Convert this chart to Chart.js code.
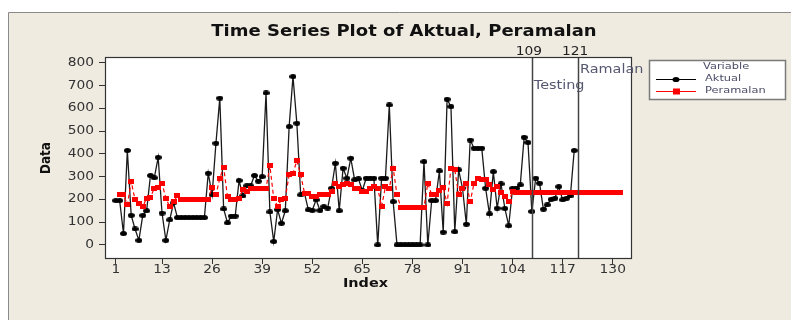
<!DOCTYPE html>
<html>
<head>
<meta charset="utf-8">
<script src="https://cdn.jsdelivr.net/npm/chart.js@4.4.1/dist/chart.umd.min.js"></script>
<style>
  html, body { margin: 0; padding: 0; background: #ffffff; }
  #wrap { width: 791px; height: 320px; }
</style>
</head>
<body>
<div id="wrap"><canvas id="chart" width="791" height="320"></canvas></div>
<script>
const aktual = [
  195, 195, 50, 415, 130, 70, 20, 130, 150, 305,
  295, 385, 140, 20, 110, 185, 120, 120, 120, 120,
  120, 120, 120, 120, 315, 220, 447, 645, 158, 97,
  127, 127, 283, 215, 260, 260, 305, 280, 300, 668,
  145, 15, 155, 95, 150, 520, 740, 535, 220, 225,
  154, 152, 198, 152, 168, 162, 249, 359, 150, 337,
  293, 381, 286, 290, 239, 293, 293, 293, 0, 293,
  293, 615, 190, 0, 0, 0, 0, 0, 0, 0,
  366, 0, 195, 195, 325, 56, 640, 608, 58, 330,
  250, 91, 461, 425, 425, 425, 249, 136, 322, 161,
  268, 160, 84, 249, 249, 264, 473, 450, 147, 293,
  271, 157, 176, 200, 205, 256, 198, 205, 215, 415
];

const peramalan = [
  null, 220, 220, 176, 278, 198, 183, 168, 205, 210,
  249, 252, 271, 205, 168, 190, 215, 200, 200, 200,
  200, 200, 200, 200, 200, 252, 220, 293, 341, 212,
  198, 200, 205, 245, 234, 250, 250, 250, 250, 250,
  347, 205, 170, 198, 205, 308, 315, 370, 308, 227,
  227, 212, 212, 220, 220, 220, 234, 271, 256, 264,
  268, 264, 249, 249, 234, 234, 249, 256, 249, 168,
  256, 249, 337, 220, 165, 165, 165, 165, 165, 165,
  165, 271, 220, 220, 240, 253, 180, 337, 330, 220,
  249, 271, 190, 271, 293, 288, 288, 264, 242, 256,
  230, 212, 190, 234, 230, 230, 230, 230, 230, 230,
  230, 230, 230, 230, 230, 230, 230, 230, 230, 230,
  230, 230, 230, 230, 230, 230, 230, 230, 230, 230,
  230, 230
];

const xTicks = [1, 13, 26, 39, 52, 65, 78, 91, 104, 117, 130];
const yTicks = [0, 100, 200, 300, 400, 500, 600, 700, 800];
const refLines = [109, 121];
const refNotes = ['Testing', 'Ramalan'];

const BEIGE = '#efebe1';
const FONT = '"DejaVu Sans", Tahoma, sans-serif';
const SX = 1.2; // the original image is a bit stretched sideways

// draw text squeezed/stretched horizontally
function wideText(ctx, text, x, y, align) {
  ctx.save();
  ctx.translate(x, y);
  ctx.scale(SX, 1);
  ctx.textAlign = align || 'center';
  ctx.fillText(text, 0, 0);
  ctx.restore();
}

// point markers (wider than tall like the source)
function marker(w, h, color, round) {
  const c = document.createElement('canvas');
  c.width = w; c.height = h;
  const g = c.getContext('2d');
  g.fillStyle = color;
  if (round) {
    g.beginPath();
    g.ellipse(w / 2, h / 2, w / 2, h / 2, 0, 0, Math.PI * 2);
    g.fill();
  } else {
    g.fillRect(0, 0, w, h);
  }
  return c;
}

// background: white page, beige panel, white data region
const bgPlugin = {
  id: 'bg',
  beforeDraw(chart) {
    const { ctx, chartArea: a } = chart;
    ctx.save();
    ctx.fillStyle = '#ffffff';
    ctx.fillRect(0, 0, chart.width, chart.height);
    ctx.fillStyle = BEIGE;
    ctx.fillRect(8, 12, chart.width - 8, chart.height - 12);
    ctx.strokeStyle = '#8a8a8a';
    ctx.lineWidth = 1;
    ctx.beginPath();
    ctx.moveTo(8.5, chart.height);
    ctx.lineTo(8.5, 12.5);
    ctx.lineTo(chart.width, 12.5);
    ctx.stroke();
    ctx.fillStyle = '#ffffff';
    ctx.fillRect(a.left, a.top, a.right - a.left, a.bottom - a.top);
    ctx.restore();
  }
};

// frame, reference lines, texts and legend
const overlayPlugin = {
  id: 'overlay',
  afterDraw(chart) {
    const { ctx, chartArea: a, scales } = chart;
    const x = scales.x, y = scales.y;
    ctx.save();

    // reference lines at 109 and 121
    ctx.strokeStyle = '#444';
    ctx.lineWidth = 1.5;
    refLines.forEach(v => {
      const px = Math.round(x.getPixelForValue(v)) + 0.5;
      ctx.beginPath();
      ctx.moveTo(px, a.top);
      ctx.lineTo(px, a.bottom);
      ctx.stroke();
    });

    // plot frame
    ctx.strokeStyle = '#333';
    ctx.lineWidth = 1.2;
    ctx.strokeRect(a.left + 0.5, a.top + 0.5, a.right - a.left - 1, a.bottom - a.top - 1);

    // tick labels
    ctx.fillStyle = '#333';
    ctx.font = '11.5px ' + FONT;
    ctx.textBaseline = 'middle';
    xTicks.forEach(v => wideText(ctx, String(v), x.getPixelForValue(v), 270, 'center'));
    yTicks.forEach(v => wideText(ctx, String(v), 94, y.getPixelForValue(v), 'right'));

    // labels above the reference lines
    ctx.fillStyle = '#222';
    ctx.font = '11.5px ' + FONT;
    refLines.forEach(v => wideText(ctx, String(v), x.getPixelForValue(v) - 3, 52, 'center'));

    // notes inside the plot
    ctx.fillStyle = '#55586e';
    ctx.font = '12px ' + FONT;
    wideText(ctx, refNotes[0], x.getPixelForValue(refLines[0]) + 2, 86, 'left');
    wideText(ctx, refNotes[1], x.getPixelForValue(refLines[1]) + 2, 70, 'left');

    // title
    ctx.fillStyle = '#111';
    ctx.font = 'bold 15px ' + FONT;
    wideText(ctx, 'Time Series Plot of Aktual, Peramalan', 404, 32, 'center');

    // axis titles
    ctx.font = 'bold 12px ' + FONT;
    wideText(ctx, 'Index', (a.left + a.right) / 2 - 3, 284, 'center');
    ctx.save();
    ctx.translate(46, 158);
    ctx.rotate(-Math.PI / 2);
    ctx.scale(1, SX);
    ctx.textAlign = 'center';
    ctx.fillText('Data', 0, 0);
    ctx.restore();

    // legend
    const lx = 649, ly = 60, lw = 136, lh = 39;
    ctx.fillStyle = '#ffffff';
    ctx.fillRect(lx, ly, lw, lh);
    ctx.strokeStyle = '#7a7a7a';
    ctx.lineWidth = 1.5;
    ctx.strokeRect(lx + 0.5, ly + 0.5, lw, lh);
    ctx.fillStyle = '#4a4c66';
    ctx.font = '9.5px ' + FONT;
    wideText(ctx, 'Variable', 703, 67, 'left');
    wideText(ctx, 'Aktual', 705, 79, 'left');
    wideText(ctx, 'Peramalan', 705, 91, 'left');

    ctx.strokeStyle = '#000';
    ctx.lineWidth = 1;
    ctx.beginPath();
    ctx.moveTo(656, 79.5); ctx.lineTo(696, 79.5);
    ctx.stroke();
    ctx.fillStyle = '#000';
    ctx.beginPath();
    ctx.ellipse(676, 79.5, 3.5, 2.6, 0, 0, Math.PI * 2);
    ctx.fill();

    ctx.strokeStyle = '#ff0000';
    ctx.beginPath();
    ctx.moveTo(656, 91.5); ctx.lineTo(696, 91.5);
    ctx.stroke();
    ctx.fillStyle = '#ff0000';
    ctx.fillRect(673, 88.5, 7, 6);

    ctx.restore();
  }
};

const toPoints = arr => arr.map((v, i) => ({ x: i + 1, y: v }));

new Chart(document.getElementById('chart'), {
  type: 'line',
  data: {
    datasets: [
      {
        label: 'Aktual',
        data: toPoints(aktual),
        borderColor: '#1a1a1a',
        borderWidth: 1.3,
        pointStyle: marker(7, 5, '#000', true),
        pointRadius: 3,
        order: 2
      },
      {
        label: 'Peramalan',
        data: toPoints(peramalan),
        borderColor: '#ff0000',
        borderWidth: 1.2,
        borderDash: [4, 3],
        pointStyle: marker(6, 5, '#ff0000', false),
        pointRadius: 3,
        order: 1
      }
    ]
  },
  options: {
    responsive: false,
    animation: false,
    events: [],
    layout: { padding: { left: 75, right: 159, top: 57, bottom: 41 } },
    plugins: { legend: { display: false }, tooltip: { enabled: false } },
    scales: {
      x: {
        type: 'linear',
        min: -1.8,
        max: 135,
        afterBuildTicks: s => { s.ticks = xTicks.map(v => ({ value: v })); },
        afterFit: s => { s.height = 20; },
        grid: { drawOnChartArea: false, drawTicks: true, tickLength: 5, color: '#333' },
        border: { display: false },
        ticks: { color: 'rgba(0,0,0,0)', font: { family: FONT, size: 11 }, padding: 1, maxRotation: 0, autoSkip: false }
      },
      y: {
        min: -62,
        max: 826,
        afterBuildTicks: s => { s.ticks = yTicks.map(v => ({ value: v })); },
        afterFit: s => { s.width = 30; },
        grid: { drawOnChartArea: false, drawTicks: true, tickLength: 6, color: '#333' },
        border: { display: false },
        ticks: { color: 'rgba(0,0,0,0)', font: { family: FONT, size: 11 }, padding: 3 }
      }
    }
  },
  plugins: [bgPlugin, overlayPlugin]
});
</script>
</body>
</html>
